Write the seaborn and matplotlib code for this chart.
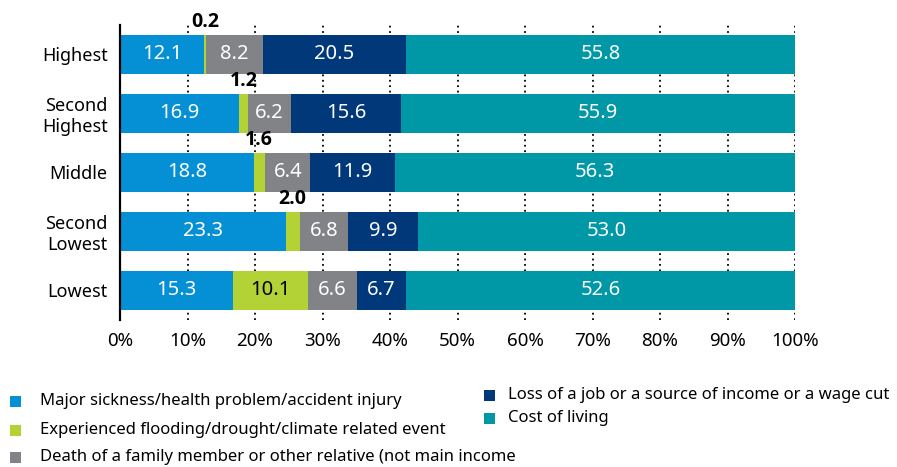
import numpy as np
import matplotlib.pyplot as plt
import seaborn as sns
from matplotlib.patches import Rectangle

# -------------------- Data --------------------
groups = ["Highest", "Second\nHighest", "Middle", "Second\nLowest", "Lowest"]
causes = [
    "Major sickness/health problem/accident injury",
    "Experienced flooding/drought/climate related event",
    "Death of a family member or other relative (not main income",
    "Loss of a job or a source of income or a wage cut",
    "Cost of living",
]
sickness = [12.1, 16.9, 18.8, 23.3, 15.3]
climate = [0.2, 1.2, 1.6, 2.0, 10.1]
death = [8.2, 6.2, 6.4, 6.8, 6.6]
job_loss = [20.5, 15.6, 11.9, 9.9, 6.7]
cost_living = [55.8, 55.9, 56.3, 53.0, 52.6]

colors = ["#0590d6", "#b3d235", "#818386", "#00387a", "#0097a6"]
label_colors = ["white", "black", "white", "white", "white"]

# values per group (rows) and cause (columns), scaled to 100% per row
values = np.array([sickness, climate, death, job_loss, cost_living]).T
shares = values / values.sum(axis=1, keepdims=True) * 100
cum = shares.cumsum(axis=1)

# -------------------- Style --------------------
sns.set_style("white")
plt.rcParams["font.family"] = ["Noto Sans", "DejaVu Sans"]
plt.rcParams["text.color"] = "black"
plt.rcParams["xtick.labelcolor"] = "black"
plt.rcParams["ytick.labelcolor"] = "black"

fig, ax = plt.subplots(figsize=(8.97, 4.67), dpi=100)
fig.subplots_adjust(left=0.1338, right=0.8863, top=0.9465, bottom=0.3148)

# stacked bars: draw cumulative totals from the last layer to the first
bar_h = 0.66
for j in reversed(range(len(causes))):
    sns.barplot(x=cum[:, j], y=groups, color=colors[j], orient="h",
                width=bar_h, saturation=1, errorbar=None, linewidth=0, ax=ax)

# value labels (tiny segments get a bold label above the bar)
for i in range(len(groups)):
    for j in range(len(causes)):
        xc = cum[i, j] - shares[i, j] / 2
        if shares[i, j] < 3:
            ax.text(xc, i - bar_h / 2 - 0.05, f"{values[i, j]:.1f}",
                    ha="center", va="bottom", fontsize=14, family="Open Sans",
                    fontweight="bold", color="black")
        else:
            ax.text(xc, i, f"{values[i, j]:.1f}", ha="center", va="center",
                    fontsize=14.5, color=label_colors[j])

# -------------------- Axes formatting --------------------
ax.set_xlim(0, 100)
ax.set_ylim(len(groups) - 0.5, -0.5)
ax.set_xticks(range(0, 101, 10))
ax.set_xticklabels([f"{t}%" for t in range(0, 101, 10)], fontsize=13.5)
ax.tick_params(axis="x", length=0, pad=9)
ax.tick_params(axis="y", which="major", length=0, pad=9, labelsize=13)
ax.set_yticks(np.arange(0.5, len(groups) - 1, 1), minor=True)
ax.tick_params(axis="y", which="minor", length=24, width=1.6, color="black")
ax.set_xlabel("")
ax.set_ylabel("")

ax.set_axisbelow(True)
ax.xaxis.grid(True, linestyle=(0, (1, 2)), color="black", linewidth=1.3)
ax.yaxis.grid(False)
for side in ["top", "right", "bottom"]:
    ax.spines[side].set_visible(False)
ax.spines["left"].set_color("black")
ax.spines["left"].set_linewidth(1.6)

# -------------------- Legend (two columns) --------------------
W, H = 897, 467
legend_pos = [(10, 401, 40), (10, 430, 40), (10, 457, 40),
              (484, 395, 508), (484, 418, 508)]
for (mx, my, tx), lab, col in zip(legend_pos, causes, colors):
    fig.add_artist(Rectangle((mx / W, 1 - (my + 5.5) / H), 11 / W, 11 / H,
                             transform=fig.transFigure, color=col, lw=0))
    fig.text(tx / W, 1 - my / H, lab, ha="left", va="center", fontsize=12)

plt.savefig("out.png", dpi=100)
